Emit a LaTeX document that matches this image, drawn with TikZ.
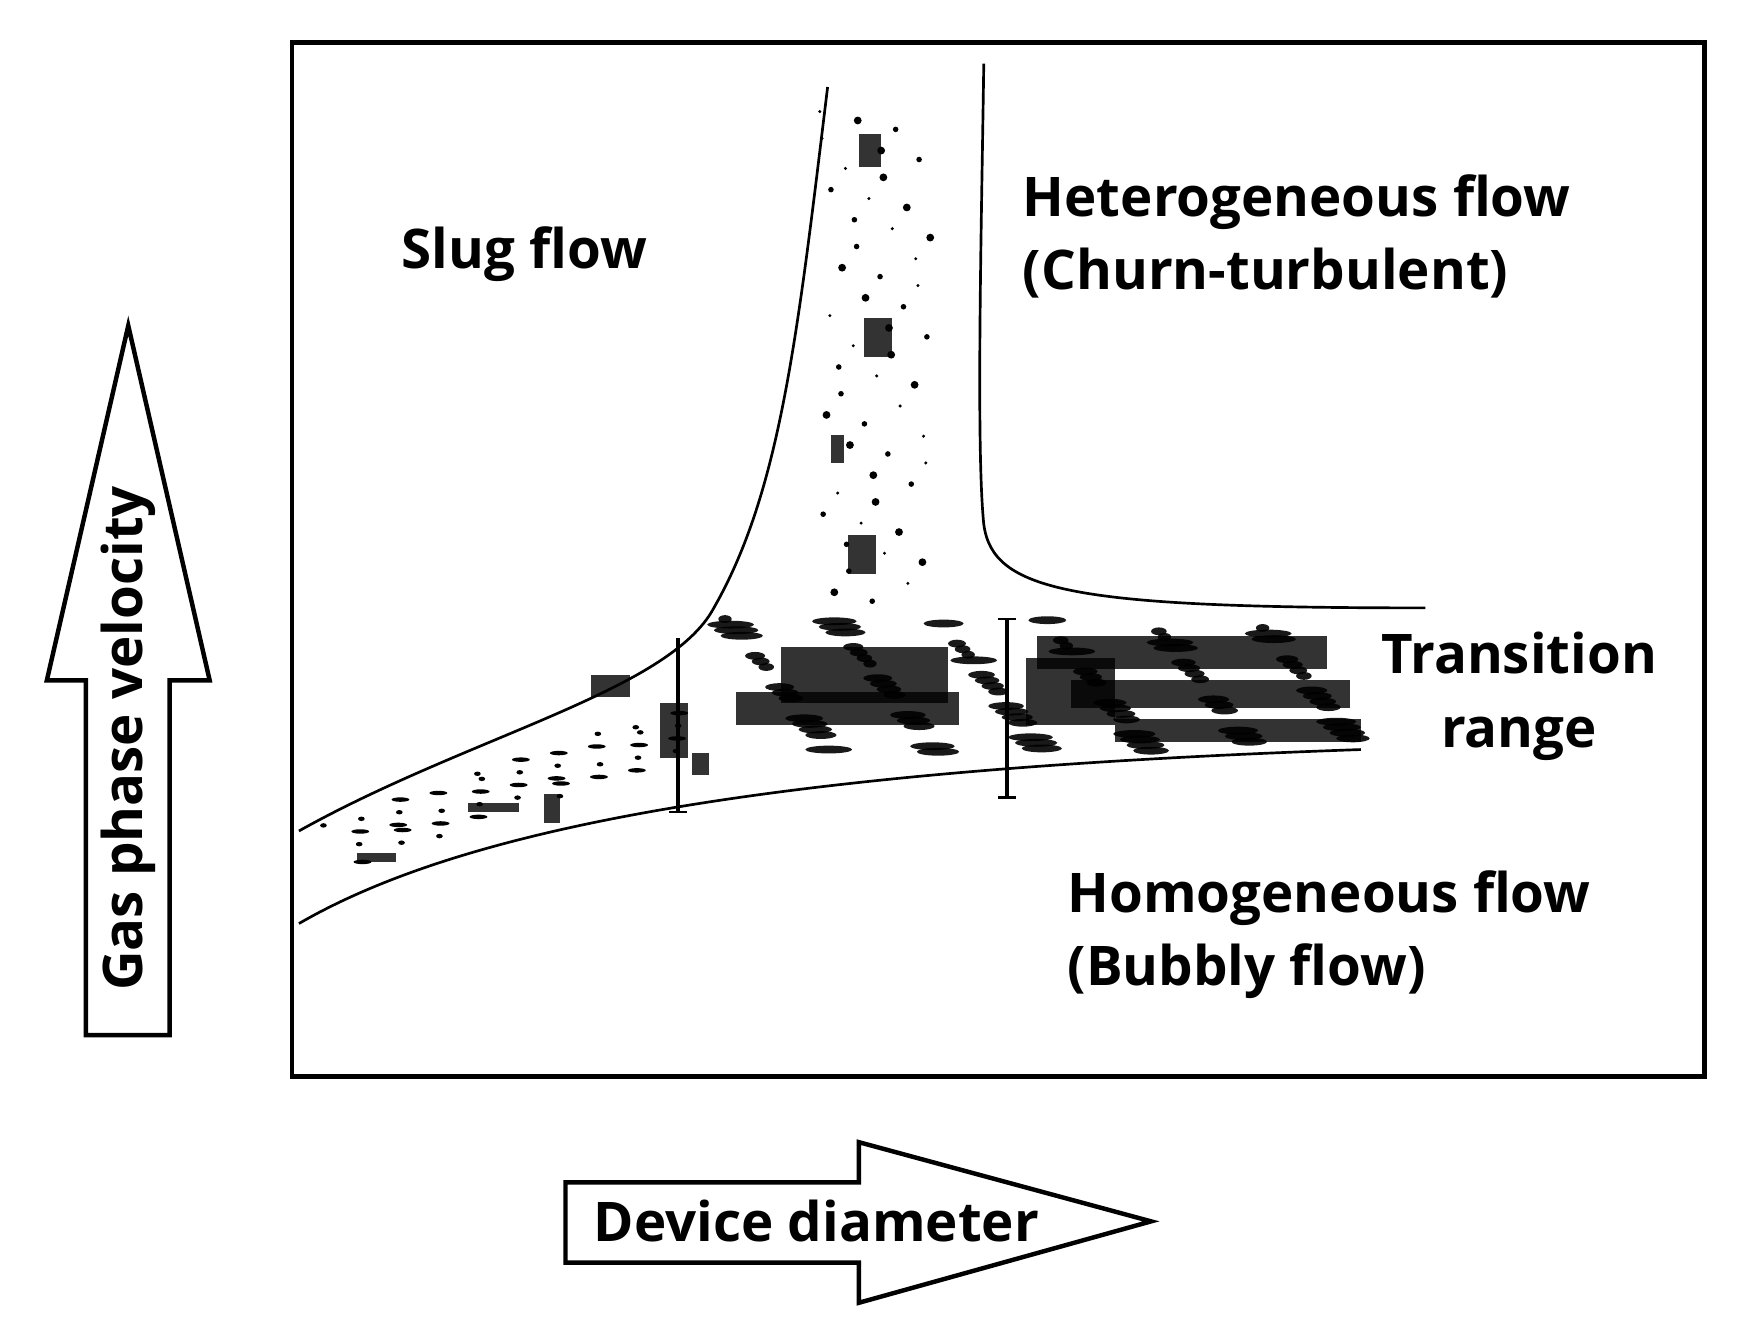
\documentclass[tikz,border=0pt]{standalone}
\usepackage{fontspec}
\setmainfont{Open Sans}
\begin{document}
\begin{tikzpicture}[x=0.5pt,y=-0.5pt,
 lbl/.style={font=\fontsize{24.5}{33}\selectfont\bfseries,align=center},
 curve/.style={line width=1.2pt},
 ink/.style={fill=black,draw=none}]
\useasboundingbox (0,0) rectangle (1560,1191);
\draw[line width=2pt] (262,38) rectangle (1528,965);
% up arrow
\draw[line width=2pt,line join=miter] (77,928) -- (77,610) -- (42,610) -- (115,292) -- (188,610) -- (152,610) -- (152,928) -- cycle;
\node[lbl,rotate=90] (gv) at (115,662) {Gas phase velocity};
% right arrow
\draw[line width=2pt,line join=miter] (507,1060) -- (770,1060) -- (770,1024) -- (1032,1095) -- (770,1168) -- (770,1132) -- (507,1132) -- cycle;
\node[lbl] (dd) at (732,1095) {Device diameter};
% smudges
\begin{scope}[ink]
\foreach \x/\y/\w/\h in {700/580/150/50, 660/620/200/30, 930/570/260/30, 960/610/250/25, 1000/645/220/20, 920/590/80/60,
 530/605/35/20, 592/630/25/50, 620/675/16/20, 770/120/20/30, 775/285/25/35, 760/480/25/35, 745/390/12/25, 320/765/35/8, 420/720/45/8, 488/712/14/26}
  \fill[opacity=0.8] (\x,\y) rectangle ++(\w,\h);
\foreach \i in {0,...,90}
  \fill[opacity=0.9] ({650+mod(\i*137,570)},{555+mod(\i*53,120)}) ellipse ({6+mod(\i*7,16)} and 3.5);
\foreach \i in {0,...,50}
  \fill ({735+mod(\i*31,100)},{100+mod(\i*97,450)}) circle ({1.5+mod(\i,3)});
\foreach \i in {0,...,40}
  \fill ({290+mod(\i*71,320)},{{740+mod(\i*29,50)-mod(\i*71,320)*0.35}}) ellipse ({3+mod(\i*5,10)} and 2);
\end{scope}
% boundary curves
\draw[curve] (268,745) .. controls (420,660) and (600,620) .. (640,545) .. controls (700,440) and (715,300) .. (742,78);
\draw[curve] (268,828) .. controls (420,740) and (700,690) .. (1220,672);
\draw[curve] (882,57) .. controls (880,200) and (875,400) .. (882,470) .. controls (890,530) and (960,545) .. (1278,545);
% bars
\draw[line width=2pt] (608,572) -- (608,728);
\draw[line width=1.2pt] (600,728) -- (616,728);
\draw[line width=2pt] (903,555) -- (903,715);
\draw[line width=1.2pt] (895,555) -- (911,555) (895,715) -- (911,715);
% labels
\node[lbl] (slug) at (470,228) {Slug flow};
\node[lbl,align=left,anchor=west] (het) at (910,212) {Heterogeneous flow\\(Churn-turbulent)};
\node[lbl] (tr) at (1362,624) {Transition\\range};
\node[lbl,align=left,anchor=west] (hom) at (950,838) {Homogeneous flow\\(Bubbly flow)};
\end{tikzpicture}
\end{document}
